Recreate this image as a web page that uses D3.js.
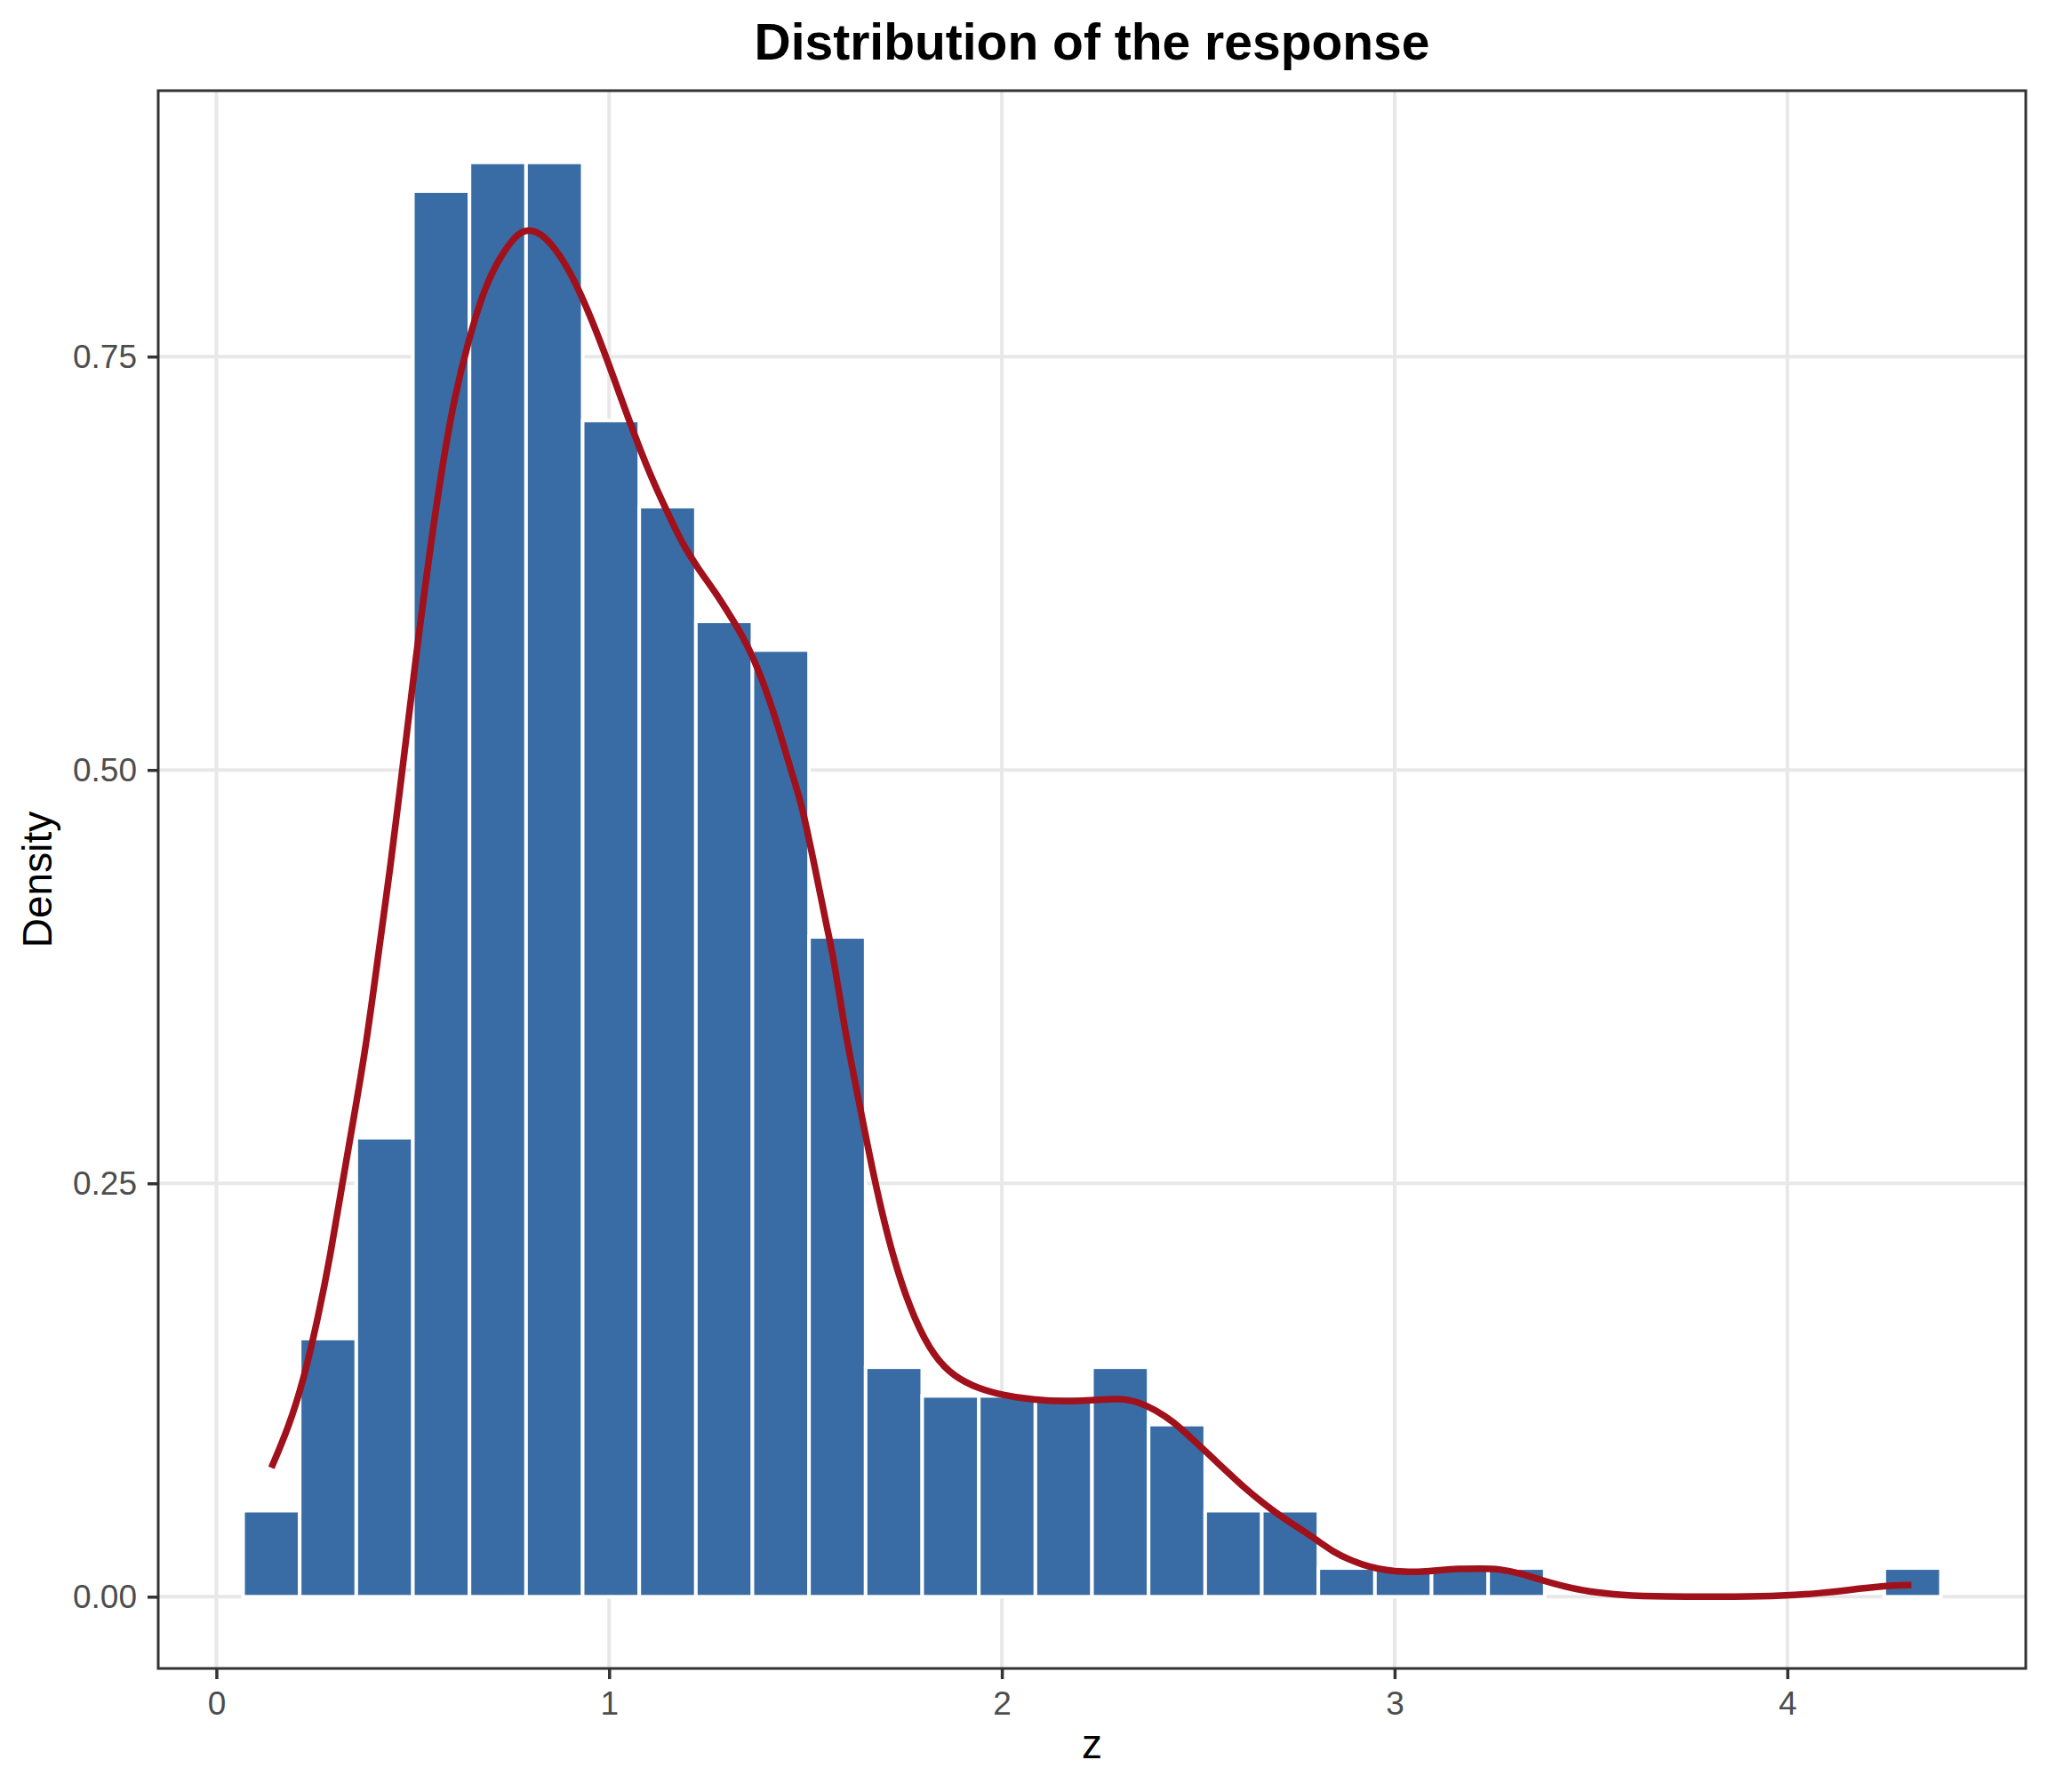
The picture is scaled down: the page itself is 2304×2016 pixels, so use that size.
<!DOCTYPE html>
<html>
<head>
<meta charset="utf-8">
<script src="https://cdn.jsdelivr.net/npm/d3@7"></script>
<style>
  body { margin: 0; background: #fff; }
  svg { display: block; font-family: "Liberation Sans", Arial, Helvetica, sans-serif; }
</style>
</head>
<body>
<div class="svg-mount"></div>
<script>
// histogram: 30 bins, counts
const sampleSize = 400;
const binStart = 0.068;
const binWidth = 0.1441;
const binCounts = [
  3, 9, 16, 49, 50, 50, 41, 38, 34, 33,
  23, 8, 7, 7, 7, 8, 6, 3, 3, 1,
  1, 1, 1, 0, 0, 0, 0, 0, 0, 1,
];

// kernel density curve
const densityZ = [
  0.140, 0.183, 0.221, 0.260, 0.290, 0.320, 0.350, 0.381, 0.411, 0.441,
  0.464, 0.512, 0.562, 0.603, 0.643, 0.683, 0.724, 0.764, 0.792, 0.825,
  0.865, 0.906, 0.946, 0.986, 1.027, 1.067, 1.107, 1.148, 1.188, 1.229,
  1.269, 1.309, 1.350, 1.390, 1.430, 1.471, 1.488, 1.531, 1.556, 1.572,
  1.600, 1.616, 1.677, 1.727, 1.778, 1.828, 1.879, 1.939, 2.000, 2.080,
  2.161, 2.242, 2.302, 2.346, 2.391, 2.436, 2.482, 2.527, 2.572, 2.617,
  2.663, 2.708, 2.753, 2.798, 2.844, 2.889, 2.934, 2.979, 3.024, 3.070,
  3.115, 3.160, 3.222, 3.263, 3.324, 3.374, 3.435, 3.496, 3.577, 3.679,
  3.882, 3.983, 4.085, 4.186, 4.267, 4.316,
];
const densityValues = [
  0.078, 0.102, 0.130, 0.170, 0.206, 0.249, 0.290, 0.333, 0.386, 0.438,
  0.481, 0.577, 0.665, 0.723, 0.761, 0.792, 0.811, 0.824, 0.827, 0.825,
  0.815, 0.799, 0.778, 0.754, 0.727, 0.701, 0.677, 0.656, 0.636, 0.621,
  0.608, 0.593, 0.577, 0.555, 0.527, 0.493, 0.482, 0.433, 0.403, 0.386,
  0.343, 0.324, 0.249, 0.201, 0.167, 0.145, 0.133, 0.126, 0.122, 0.119,
  0.118, 0.119, 0.120, 0.118, 0.113, 0.106, 0.096, 0.086, 0.076, 0.066,
  0.057, 0.049, 0.042, 0.035, 0.027, 0.022, 0.018, 0.016, 0.015, 0.015,
  0.016, 0.017, 0.017, 0.017, 0.014, 0.010, 0.006, 0.003, 0.001, 0.000,
  0.000, 0.0005, 0.002, 0.005, 0.007, 0.007,
];

const xTicks = [0, 1, 2, 3, 4];
const yTicks = [0, 0.25, 0.5, 0.75];

const titleText = "Distribution of the response";
const xTitle = "z";
const yTitle = "Density";

const actual_width = 2304;
const actual_height = 2016;
const panel = { left: 178, right: 2279, top: 102, bottom: 1877 };

const barFill = "#396ca5";
const curveColor = "#a0111b";
const gridColor = "#e8e8e8";
const axisColor = "#333333";
const tickTextColor = "#4d4d4d";

// ggplot-like 5% expansion
function expand(lo, hi) {
  const pad = (hi - lo) * 0.05;
  return [lo - pad, hi + pad];
}

const bins = binCounts.map((c, i) => ({
  x0: binStart + i * binWidth,
  x1: binStart + (i + 1) * binWidth,
  density: c / (sampleSize * binWidth),
}));

const x = d3
  .scaleLinear()
  .domain(expand(bins[0].x0, bins[bins.length - 1].x1))
  .range([panel.left, panel.right]);

const y = d3
  .scaleLinear()
  .domain(expand(0, d3.max(bins, (d) => d.density)))
  .range([panel.bottom, panel.top]);

const svg = d3
  .select(".svg-mount")
  .append("svg")
  .attr("width", actual_width)
  .attr("height", actual_height);

svg
  .append("rect")
  .attr("width", actual_width)
  .attr("height", actual_height)
  .attr("fill", "#fff");

function drawGrid() {
  const grid = svg.append("g").attr("stroke", gridColor).attr("stroke-width", 4);
  grid
    .selectAll("line.vgrid")
    .data(xTicks)
    .join("line")
    .attr("class", "vgrid")
    .attr("x1", x)
    .attr("x2", x)
    .attr("y1", panel.top)
    .attr("y2", panel.bottom);
  grid
    .selectAll("line.hgrid")
    .data(yTicks)
    .join("line")
    .attr("class", "hgrid")
    .attr("x1", panel.left)
    .attr("x2", panel.right)
    .attr("y1", y)
    .attr("y2", y);
}

function drawBars() {
  svg
    .append("g")
    .selectAll("rect")
    .data(bins)
    .join("rect")
    .attr("x", (d) => x(d.x0))
    .attr("width", (d) => x(d.x1) - x(d.x0))
    .attr("y", (d) => y(d.density))
    .attr("height", (d) => y(0) - y(d.density))
    .attr("fill", barFill)
    .attr("stroke", "#fff")
    .attr("stroke-width", 4);
}

function drawDensity() {
  const pts = densityZ.map((z, i) => [z, densityValues[i]]);
  // smooth out reading jitter
  const line = d3
    .line()
    .x((d) => x(d[0]))
    .y((d) => y(d[1]))
    .curve(d3.curveBasis);
  svg
    .append("path")
    .datum(pts)
    .attr("d", line)
    .attr("fill", "none")
    .attr("stroke", curveColor)
    .attr("stroke-width", 7.5)
    .attr("stroke-linejoin", "round");
}

function drawAxes() {
  // panel border
  svg
    .append("rect")
    .attr("x", panel.left)
    .attr("y", panel.top)
    .attr("width", panel.right - panel.left)
    .attr("height", panel.bottom - panel.top)
    .attr("fill", "none")
    .attr("stroke", axisColor)
    .attr("stroke-width", 3);

  const xAxis = svg
    .append("g")
    .attr("transform", `translate(0,${panel.bottom})`)
    .call(d3.axisBottom(x).tickValues(xTicks).tickSize(12).tickPadding(14).tickFormat(d3.format("d")));
  xAxis.select(".domain").remove();
  xAxis.selectAll(".tick line").attr("stroke", axisColor).attr("stroke-width", 3.5);
  xAxis
    .selectAll(".tick text")
    .attr("fill", tickTextColor)
    .attr("font-size", 37)
    .attr("font-family", null);

  const yAxis = svg
    .append("g")
    .attr("transform", `translate(${panel.left},0)`)
    .call(d3.axisLeft(y).tickValues(yTicks).tickSize(12).tickPadding(12).tickFormat(d3.format(".2f")));
  yAxis.select(".domain").remove();
  yAxis.selectAll(".tick line").attr("stroke", axisColor).attr("stroke-width", 3.5);
  yAxis
    .selectAll(".tick text")
    .attr("fill", tickTextColor)
    .attr("font-size", 37)
    .attr("font-family", null);
}

function drawTitles() {
  const cx = (panel.left + panel.right) / 2;
  svg
    .append("text")
    .attr("x", cx)
    .attr("y", 67)
    .attr("text-anchor", "middle")
    .attr("font-weight", "bold")
    .attr("font-size", 57)
    .attr("fill", "#000")
    .text(titleText);
  svg
    .append("text")
    .attr("x", cx)
    .attr("y", 1978)
    .attr("text-anchor", "middle")
    .attr("font-size", 46)
    .attr("fill", "#000")
    .text(xTitle);
  svg
    .append("text")
    .attr("transform", `translate(58,${(panel.top + panel.bottom) / 2}) rotate(-90)`)
    .attr("text-anchor", "middle")
    .attr("font-size", 46)
    .attr("fill", "#000")
    .text(yTitle);
}

drawGrid();
drawBars();
drawDensity();
drawAxes();
drawTitles();
</script>
</body>
</html>
